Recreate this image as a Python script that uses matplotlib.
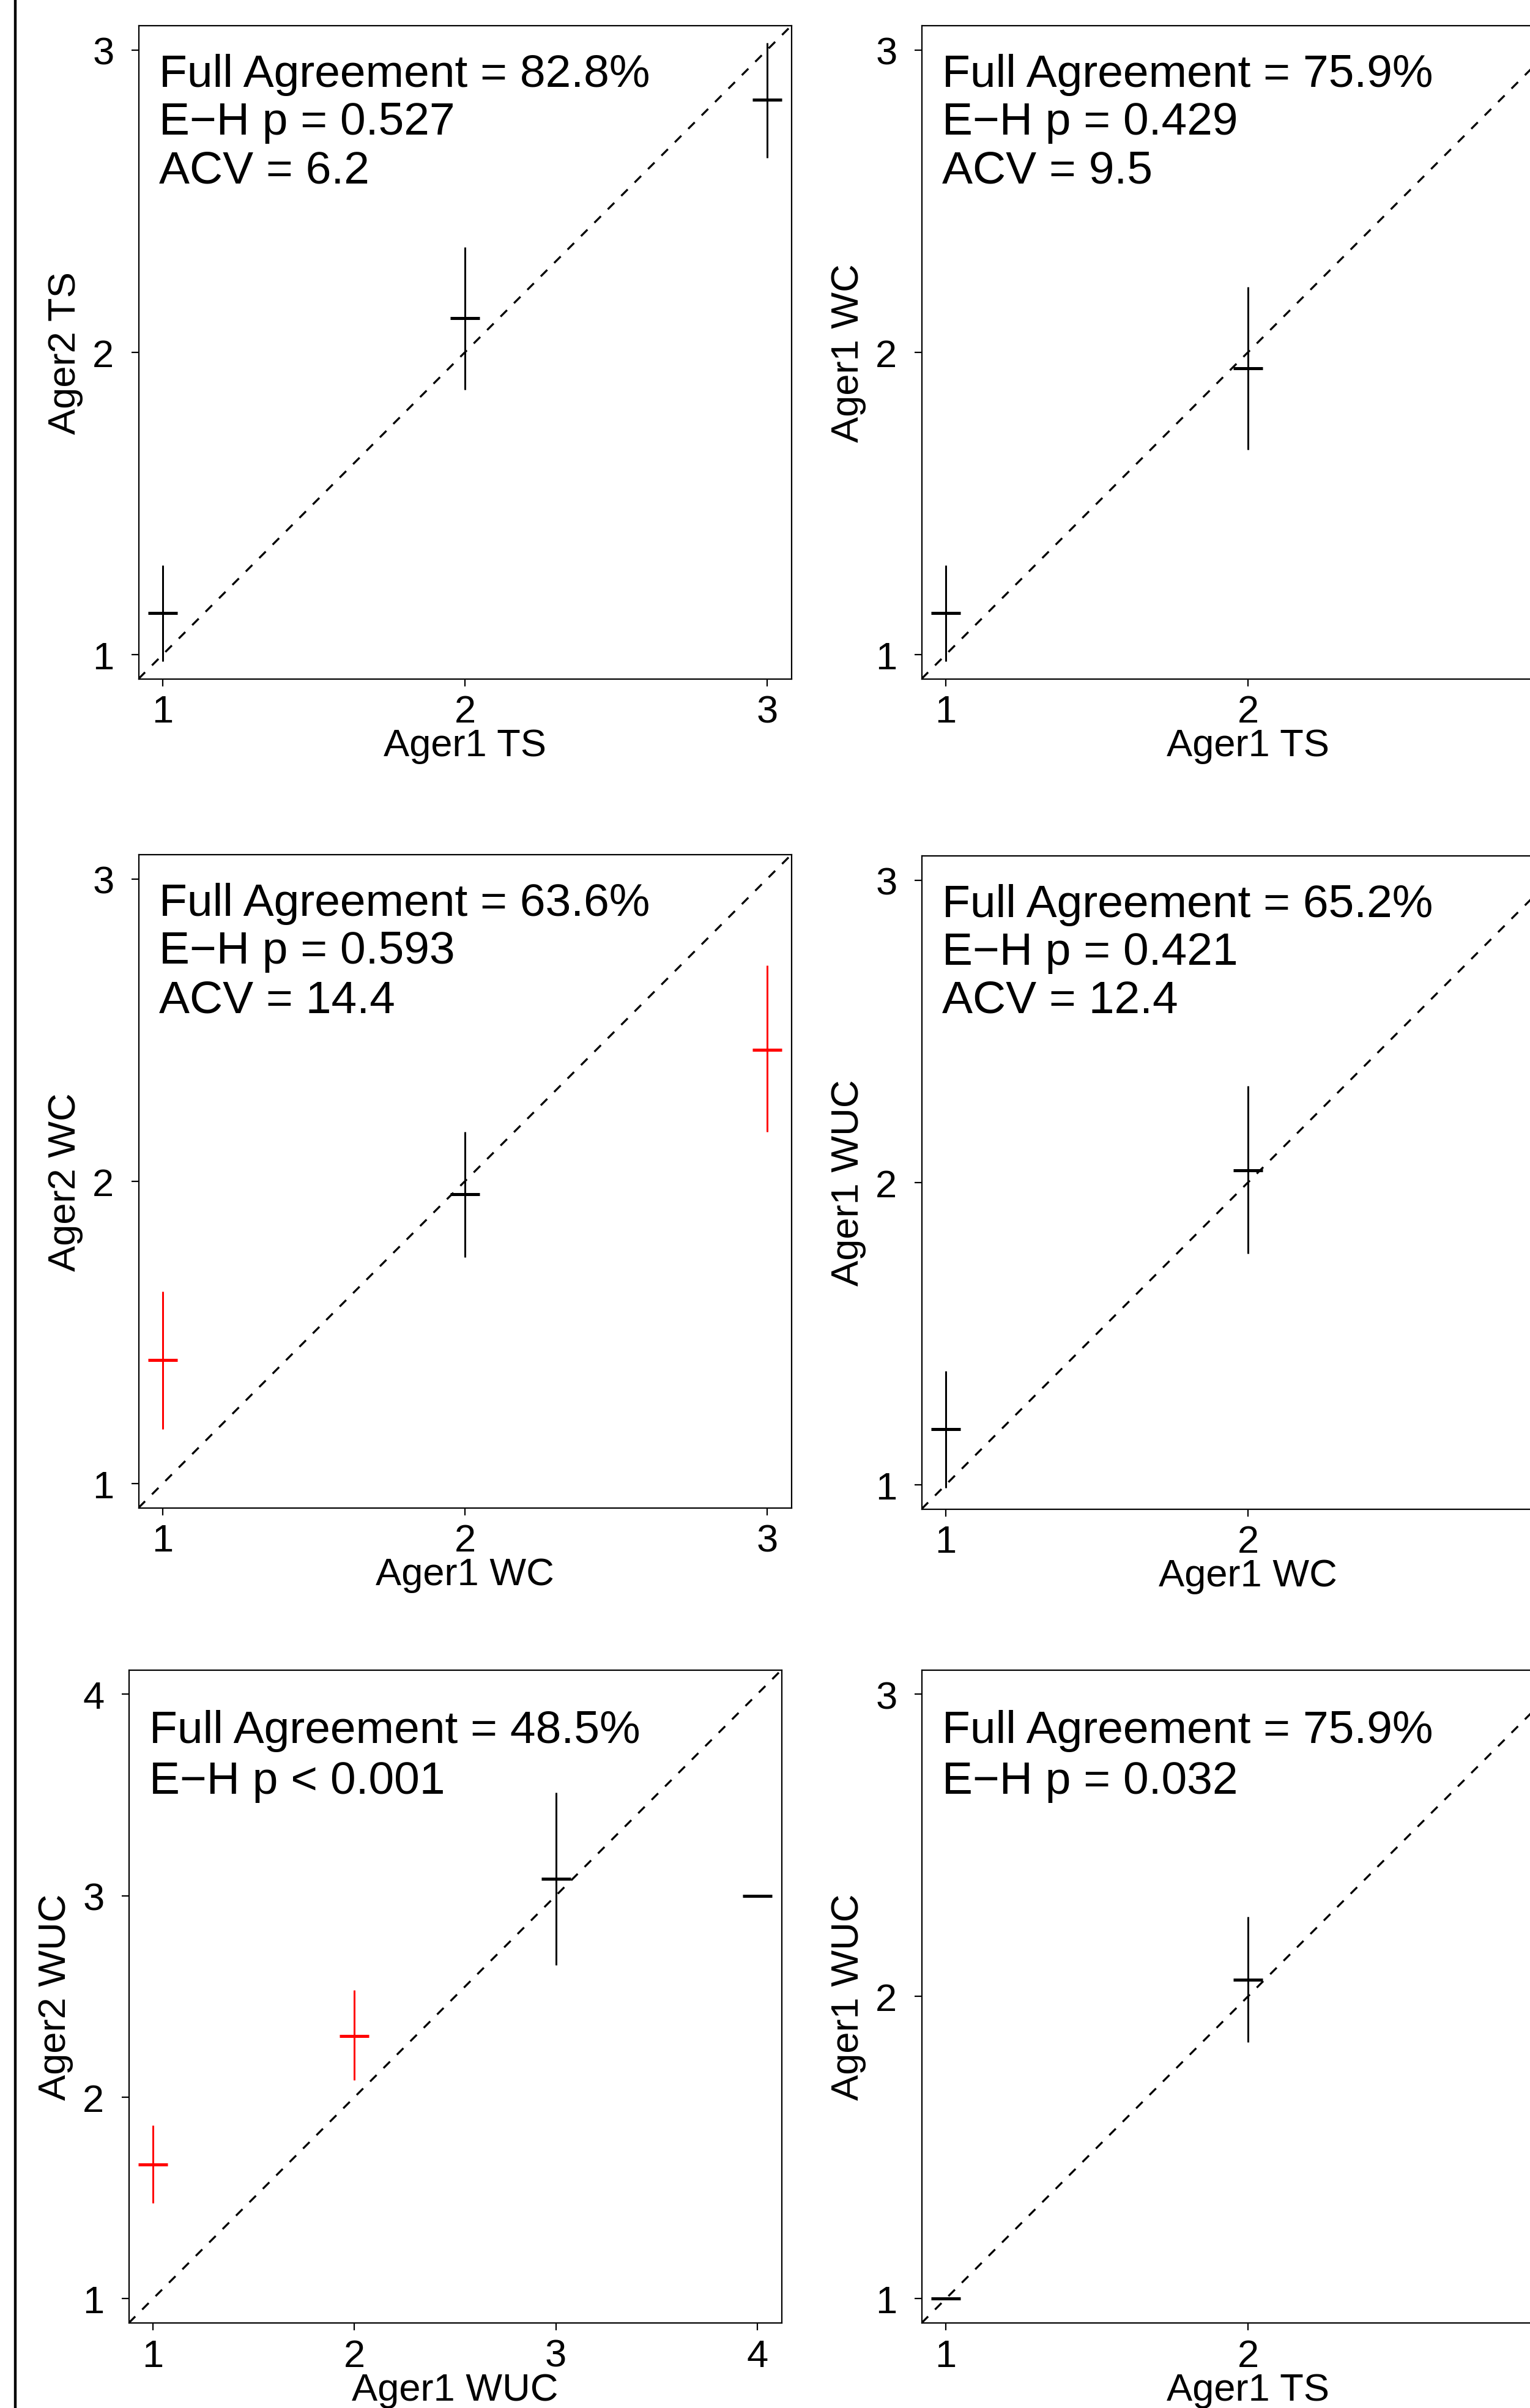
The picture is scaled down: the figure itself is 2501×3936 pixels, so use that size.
import numpy as np
import matplotlib
matplotlib.use("Agg")
import matplotlib.pyplot as plt

plt.rcParams['font.family'] = ['Liberation Sans', 'DejaVu Sans']
plt.rcParams['lines.scale_dashes'] = False

# ---------------- data ----------------
# panel order: TL, TR, ML, MR, BL, BR
xlabels = ["Ager1 TS", "Ager1 TS", "Ager1 WC", "Ager1 WC", "Ager1 WUC", "Ager1 TS"]
ylabels = ["Ager2 TS", "Ager1 WC", "Ager2 WC", "Ager1 WUC", "Ager2 WUC", "Ager1 WUC"]

ages_tl = [1, 2, 3]
mean_tl = [1.138, 2.113, 2.835]
lo_tl = [0.978, 1.876, 2.642]
hi_tl = [1.296, 2.348, 3.024]
sig_tl = [False, False, False]

ages_tr = [1, 2]
mean_tr = [1.137, 1.946]
lo_tr = [0.978, 1.677]
hi_tr = [1.296, 2.216]
sig_tr = [False, False]

ages_ml = [1, 2, 3]
mean_ml = [1.409, 1.957, 2.435]
lo_ml = [1.180, 1.749, 2.164]
hi_ml = [1.636, 2.164, 2.713]
sig_ml = [True, False, True]

ages_mr = [1, 2]
mean_mr = [1.184, 2.040]
lo_mr = [0.990, 1.765]
hi_mr = [1.377, 2.320]
sig_mr = [False, False]

ages_bl = [1, 2, 3, 4]
mean_bl = [1.666, 2.304, 3.082, 3.000]
lo_bl = [1.474, 2.085, 2.657, np.nan]
hi_bl = [1.860, 2.532, 3.511, np.nan]
sig_bl = [True, True, False, False]

ages_br = [1, 2]
mean_br = [1.000, 2.056]
lo_br = [np.nan, 1.848]
hi_br = [np.nan, 2.264]
sig_br = [False, False]

texts = [
    ["Full Agreement = 82.8%", "E\u2212H p = 0.527", "ACV = 6.2"],
    ["Full Agreement = 75.9%", "E\u2212H p = 0.429", "ACV = 9.5"],
    ["Full Agreement = 63.6%", "E\u2212H p = 0.593", "ACV = 14.4"],
    ["Full Agreement = 65.2%", "E\u2212H p = 0.421", "ACV = 12.4"],
    ["Full Agreement = 48.5%", "E\u2212H p < 0.001"],
    ["Full Agreement = 75.9%", "E\u2212H p = 0.032"],
]

# axis data range and the tick values visible inside the picture
axis_ranges = [(1, 3), (1, 3), (1, 3), (1, 3), (1, 4), (1, 3)]
xtick_vals = [[1, 2, 3], [1, 2], [1, 2, 3], [1, 2], [1, 2, 3, 4], [1, 2]]
ytick_vals = [[1, 2, 3], [1, 2, 3], [1, 2, 3], [1, 2, 3], [1, 2, 3, 4], [1, 2, 3]]

panels = [
    (ages_tl, mean_tl, lo_tl, hi_tl, sig_tl),
    (ages_tr, mean_tr, lo_tr, hi_tr, sig_tr),
    (ages_ml, mean_ml, lo_ml, hi_ml, sig_ml),
    (ages_mr, mean_mr, lo_mr, hi_mr, sig_mr),
    (ages_bl, mean_bl, lo_bl, hi_bl, sig_bl),
    (ages_br, mean_br, lo_br, hi_br, sig_br),
]

# ---------------- layout (pixels) ----------------
W, H = 2501, 3937
DPI = 100
fig = plt.figure(figsize=(W / DPI, H / DPI), dpi=DPI)
fig.patch.set_facecolor("white")

boxes = [
    (226.5, 43.0), (1506.5, 43.0),
    (226.5, 1398.0), (1506.5, 1400.0),
    (210.5, 2730.5), (1506.5, 2730.5),
]
BW, BH = 1067.0, 1067.5
text_offsets = [
    [99, 177, 256], [99, 177, 256],
    [99, 177, 257], [99, 177, 256],
    [119, 202], [119, 202],
]

px2pt = 72.0 / DPI

# thick vertical line at the left edge (edge of a neighbouring panel)
edge_ax = fig.add_axes([-0.2, 0.0, 0.2 + 24.5 / W, 1.0])
edge_ax.patch.set_visible(False)
for s in ["top", "bottom", "left"]:
    edge_ax.spines[s].set_visible(False)
edge_ax.spines["right"].set_linewidth(4.4 * px2pt)
edge_ax.set_xticks([])
edge_ax.set_yticks([])

for i, (bx, by) in enumerate(boxes):
    ages, mean, lo, hi, sig = panels[i]
    a0, a1 = axis_ranges[i]
    pad = 0.04 * (a1 - a0)
    lim = (a0 - pad, a1 + pad)

    ax = fig.add_axes([bx / W, 1 - (by + BH) / H, BW / W, BH / H])
    ax.set_xlim(lim)
    ax.set_ylim(lim)

    # 1:1 reference line
    ax.plot(lim, lim, color="black", lw=3.3 * px2pt,
            linestyle=(0, (15 * px2pt, 16 * px2pt)), zorder=1)

    cols = ["#ff0000" if s else "black" for s in sig]
    ax.vlines(ages, lo, hi, colors=cols, lw=3.0 * px2pt, zorder=2)
    for xa, ma, c in zip(ages, mean, cols):
        ax.plot([xa], [ma], marker="_", markersize=48 * px2pt,
                markeredgewidth=5.0 * px2pt, color=c, zorder=3)

    ax.set_xticks(xtick_vals[i])
    ax.set_yticks(ytick_vals[i])
    ax.set_xticklabels([str(t) for t in xtick_vals[i]])
    ax.set_yticklabels([str(t) for t in ytick_vals[i]])
    ax.tick_params(axis="both", direction="out", length=12 * px2pt,
                   width=2.2 * px2pt, labelsize=45.5, colors="black")
    ax.tick_params(axis="x", pad=13 * px2pt)
    ax.tick_params(axis="y", pad=28 * px2pt)
    for s in ax.spines.values():
        s.set_linewidth(2.2 * px2pt)

    ax.set_xlabel(xlabels[i], fontsize=45.5)
    ax.xaxis.label.set_va("baseline")
    ax.xaxis.set_label_coords(0.5, -126 / BH)
    ax.set_ylabel(ylabels[i], fontsize=45.5)
    ax.yaxis.label.set_va("baseline")
    ax.yaxis.set_label_coords(-103 / BW, 0.5)

    for line, off in zip(texts[i], text_offsets[i]):
        ax.text(33 / BW, 1 - off / BH, line, transform=ax.transAxes,
                ha="left", va="baseline", fontsize=54)

fig.savefig("out.png", dpi=DPI, facecolor="white")
